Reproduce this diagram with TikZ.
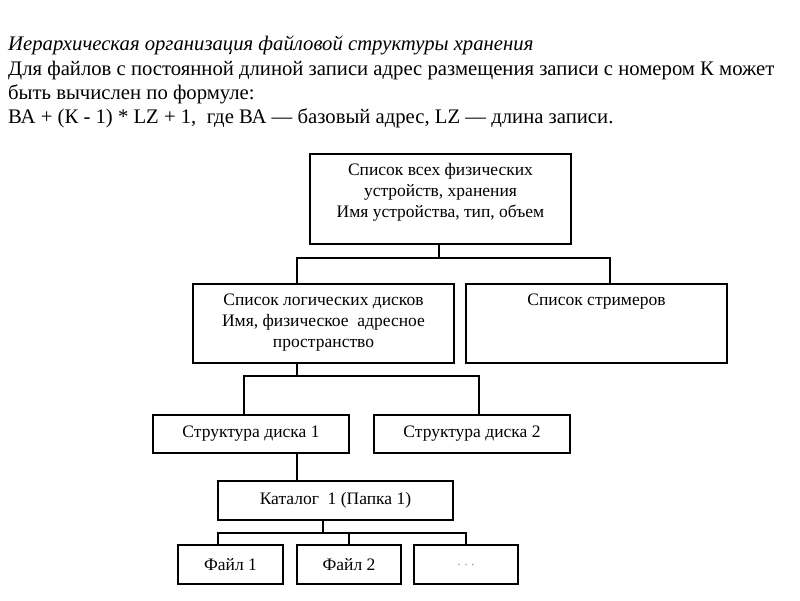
\documentclass[tikz,border=0pt]{standalone}
\usepackage{fontspec}
\setmainfont{Liberation Serif}
\newfontfamily\boxfont{Liberation Serif}
\begin{document}
\begin{tikzpicture}[x=1pt,y=-1pt,
  box/.style={draw=black, line width=1.3pt, rectangle, inner sep=0pt, font=\boxfont\fontsize{17.5}{20.5}\selectfont},
  boxtxt/.style={inner sep=0pt, align=center, anchor=base, font=\boxfont\fontsize{17.5}{20.8}\selectfont},
  head/.style={inner sep=0pt, anchor=base west, font=\fontsize{20.7}{24}\selectfont},
  conn/.style={draw=black, line width=1.3pt}]
\useasboundingbox (0,0) rectangle (800,600);
\node[head, font=\fontsize{20.7}{24}\selectfont\itshape] (t1) at (8,50) {Иерархическая организация файловой структуры хранения};
\node[head] (t2) at (8,75) {Для файлов с постоянной длиной записи адрес размещения записи с номером К может};
\node[head] (t3) at (8,99) {быть вычислен по формуле:};
\node[head] (t4) at (8,123) {ВА + (К - 1) * LZ + 1,\ \ где ВА — базовый адрес, LZ — длина записи.};

\node[box, minimum width=261, minimum height=90] (phys) at (440.5,199) {};
\node[boxtxt] (physt) at (440.5,217) {Список всех физических\\устройств, хранения\\Имя устройства, тип, объем};
\node[box, minimum width=261, minimum height=79] (log) at (323.5,323.5) {};
\node[boxtxt] (logt) at (323.5,347) {Список логических дисков\\Имя, физическое\ \ адресное\\пространство};
\node[box, minimum width=261, minimum height=79] (str) at (596.5,323.5) {};
\node[boxtxt] (strt) at (596.5,305) {Список стримеров};
\node[box, minimum width=196, minimum height=38] (s1) at (251,434) {Структура диска 1};
\node[box, minimum width=196, minimum height=38] (s2) at (472,434) {Структура диска 2};
\node[box, minimum width=235, minimum height=39] (cat) at (335.5,500.5) {Каталог\ \ 1 (Папка 1)};
\node[box, minimum width=105, minimum height=39] (f1) at (230.5,564.5) {Файл 1};
\node[box, minimum width=104, minimum height=39] (f2) at (349,564.5) {Файл 2};
\node[box, minimum width=104, minimum height=39, font=\boxfont\fontsize{12}{14}\selectfont, text=gray] (f3) at (466,564.5) {. . .};

\coordinate (j1) at (439,258);
\coordinate (j2) at (297,376);
\coordinate (j3) at (323,533);
\draw[conn] (phys.south -| j1) -- (j1);
\draw[conn] ([xshift=-26.5pt]log.north) |- (j1) -| ([xshift=13.5pt]str.north);
\draw[conn] (log.south -| j2) -- (j2);
\draw[conn] ([xshift=-7pt]s1.north) |- (j2) -| ([xshift=7pt]s2.north);
\draw[conn] (s1.south -| j2) -- (cat.north -| j2);
\draw[conn] (cat.south -| j3) -- (j3);
\draw[conn] ([xshift=-12.5pt]f1.north) |- (j3) -| (f3.north);
\draw[conn] (f2.north) -- (f2.north |- j3);
\end{tikzpicture}
\end{document}
